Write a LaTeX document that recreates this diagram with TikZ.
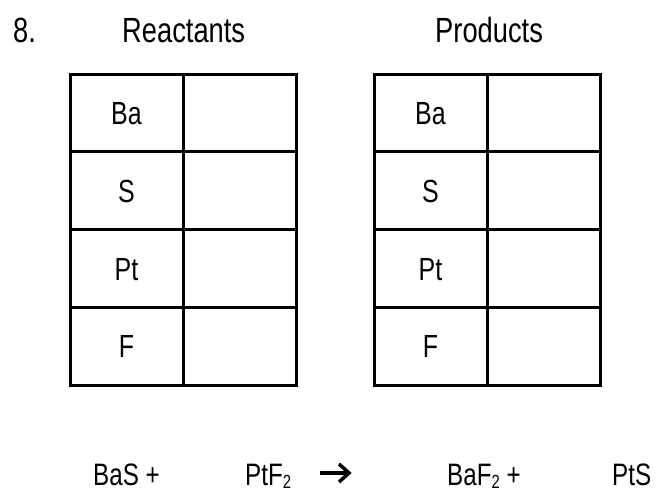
\documentclass[tikz,border=0pt]{standalone}
\usepackage{fontspec}
\setmainfont[FakeStretch=0.78]{Liberation Sans}
\usetikzlibrary{arrows.meta}
\newcommand{\lowtwo}{\raisebox{-0.12em}{\fontsize{19}{19}\selectfont 2}}
\tikzset{
  cell/.style={draw, line width=3pt, minimum width=113pt, minimum height=77.75pt,
    inner sep=0pt, text height=23pt, text depth=0pt, font=\fontsize{32}{32}\selectfont},
  title/.style={anchor=base west, inner sep=0pt, font=\fontsize{35}{35}\selectfont},
  eq/.style={anchor=base west, inner sep=0pt, font=\fontsize{31}{31}\selectfont},
  yields/.style={line width=3.5pt},
}
\begin{document}
\begin{tikzpicture}[x=1pt,y=-1pt]
\useasboundingbox (0,0) rectangle (657,493);
% titles
\node[title] (num) at (13,42) {8.};
\node[title] (reac) at (122,42) {Reactants};
\node[title] (prod) at (435,42) {Products};
% reactants table
\node[cell] (ra1) at (126.5,113) {Ba};
\node[cell] (rb1) at (239.5,113) {};
\node[cell] (ra2) at (126.5,190.75) {S};
\node[cell] (rb2) at (239.5,190.75) {};
\node[cell] (ra3) at (126.5,268.5) {Pt};
\node[cell] (rb3) at (239.5,268.5) {};
\node[cell] (ra4) at (126.5,346.25) {F};
\node[cell] (rb4) at (239.5,346.25) {};
% products table
\node[cell] (pa1) at (430.5,113) {Ba};
\node[cell] (pb1) at (543.5,113) {};
\node[cell] (pa2) at (430.5,190.75) {S};
\node[cell] (pb2) at (543.5,190.75) {};
\node[cell] (pa3) at (430.5,268.5) {Pt};
\node[cell] (pb3) at (543.5,268.5) {};
\node[cell] (pa4) at (430.5,346.25) {F};
\node[cell] (pb4) at (543.5,346.25) {};
% equation
\node[eq] (e1) at (93,485) {BaS +};
\node[eq] (e2) at (245,485) {PtF\lowtwo};
\coordinate (as) at (320,473);
\coordinate (ae) at (349,473);
\coordinate (ht) at (339,464);
\coordinate (hb) at (339,482);
\draw[yields] (as) -- (ae);
\draw[yields, line join=miter] (ht) -- (ae) -- (hb);
\node[eq] (e3) at (447,485) {BaF\lowtwo\ +};
\node[eq] (e4) at (612,485) {PtS};
\end{tikzpicture}
\end{document}
